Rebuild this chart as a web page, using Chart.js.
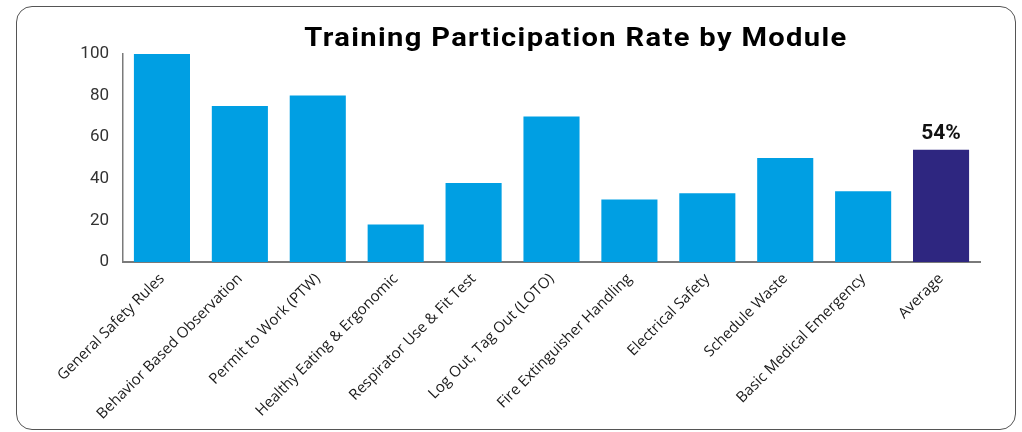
<!DOCTYPE html>
<html>
<head>
<meta charset="utf-8">
<script src="https://cdn.jsdelivr.net/npm/chart.js@4"></script>
<style>
  html, body { margin: 0; padding: 0; background: #fff; }
  body { width: 1022px; height: 432px; position: relative; overflow: hidden; }
  #frame { position: absolute; left: 16px; top: 6px; width: 998px; height: 422px;
           border: 1.5px solid #555; border-radius: 16px; }
  #title { position: absolute; left: 276px; width: 600px; top: 22px; text-align: center;
           font-family: Roboto, sans-serif; font-weight: bold; font-size: 26px; line-height: 30px;
           letter-spacing: 1.2px; color: #000; transform: scaleX(1.12); transform-origin: 300px 0; }
  #wrap { position: absolute; left: 0; top: 0; width: 1022px; height: 432px; }
</style>
</head>
<body>
<div id="frame"></div>
<div id="wrap"><canvas id="c"></canvas></div>
<div id="title">Training Participation Rate by Module</div>
<script>
const categories = ["General Safety Rules", "Behavior Based Observation", "Permit to Work (PTW)",
  "Healthy Eating & Ergonomic", "Respirator Use & Fit Test", "Log Out, Tag Out (LOTO)",
  "Fire Extinguisher Handling", "Electrical Safety", "Schedule Waste",
  "Basic Medical Emergency", "Average"];
const values = [100, 75, 80, 18, 38, 70, 30, 33, 50, 34, 54];
const barColors = ["#009FE3","#009FE3","#009FE3","#009FE3","#009FE3","#009FE3","#009FE3","#009FE3","#009FE3","#009FE3","#2E2680"];
const valueLabels = ["", "", "", "", "", "", "", "", "", "", "54%"];
const yMin = 0, yMax = 100, yStep = 20;

const labelPlugin = {
  id: 'valueLabels',
  afterDatasetsDraw(chart) {
    const ctx = chart.ctx;
    const meta = chart.getDatasetMeta(0);
    ctx.save();
    ctx.font = 'bold 21px Roboto, sans-serif';
    ctx.fillStyle = '#111';
    ctx.textAlign = 'center';
    ctx.textBaseline = 'alphabetic';
    meta.data.forEach((bar, i) => {
      if (valueLabels[i]) ctx.fillText(valueLabels[i], bar.x, bar.y - 11);
    });
    ctx.restore();
  }
};

new Chart(document.getElementById('c'), {
  type: 'bar',
  data: {
    labels: categories,
    datasets: [{ data: values, backgroundColor: barColors, borderWidth: 0,
                 categoryPercentage: 0.8, barPercentage: 0.9 }]
  },
  options: {
    responsive: true, maintainAspectRatio: false, animation: false,
    layout: { padding: { top: 54, right: 42, bottom: 0, left: 0 } },
    plugins: { legend: { display: false }, tooltip: { enabled: false } },
    scales: {
      x: {
        grid: { display: false, drawTicks: false },
        border: { display: true, color: '#7a7a7a', width: 2 },
        ticks: { maxRotation: 45, minRotation: 45, autoSkip: false, padding: 8,
                 color: '#1a1a1a', font: { family: "'Open Sans', sans-serif", size: 15 } },
        afterFit(scale) { scale.height = 170; }
      },
      y: {
        min: yMin, max: yMax,
        grid: { display: false, drawTicks: false },
        border: { display: true, color: '#7a7a7a', width: 1.5 },
        ticks: { stepSize: yStep, padding: 14, color: '#333',
                 font: { family: 'Roboto', size: 17 } },
        afterFit(scale) { scale.width = 123; }
      }
    }
  },
  plugins: [labelPlugin]
});
</script>
</body>
</html>
